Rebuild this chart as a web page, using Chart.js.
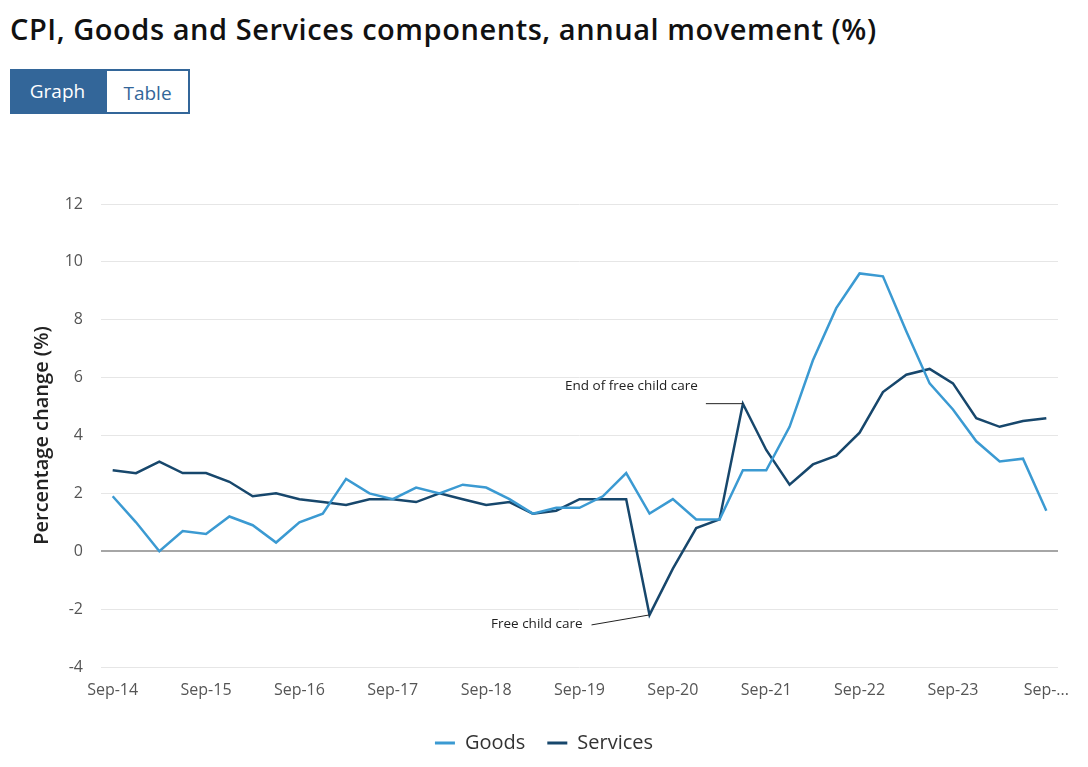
<!DOCTYPE html>
<html>
<head>
<meta charset="utf-8">
<script src="https://cdn.jsdelivr.net/npm/chart.js@4"></script>
<style>
  body { margin: 0; background: #fff; font-family: "Open Sans", sans-serif; width: 1088px; height: 767px; overflow: hidden; position: relative; }
  h1 { position: absolute; left: 10px; top: 9px; margin: 0; font-size: 29px; letter-spacing: 0.55px; font-weight: 600; color: #111; }
  .tabs { position: absolute; left: 10px; top: 69px; display: flex; }
  .tabs div { height: 45px; line-height: 45px; font-size: 19px; text-align: center; box-sizing: border-box; }
  .tab-on { width: 95px; background: #336699; color: #fff; }
  .tab-off { width: 85px; border: 2px solid #336699; color: #336699; background: #fff; line-height: 43px; }
  #wrap { position: absolute; left: 0; top: 150px; width: 1088px; height: 617px; }
</style>
</head>
<body>
<h1>CPI, Goods and Services components, annual movement (%)</h1>
<div class="tabs"><div class="tab-on">Graph</div><div class="tab-off">Table</div></div>
<div id="wrap"><canvas id="cpiChart"></canvas></div>
<script>
// Quarters Sep-14 .. Sep-24
const quarters = [];
const years = ['14','15','16','17','18','19','20','21','22','23','24'];
const months = ['Sep','Dec','Mar','Jun'];
years.forEach((y, i) => {
    months.forEach((m, j) => {
        const yr = j < 2 ? y : years[i + 1];
        if (yr) quarters.push(m + '-' + yr);
    });
});
const categories = quarters.slice(0, 41);

const goods = [1.9, 1.0, 0.0, 0.7, 0.6, 1.2, 0.9, 0.3, 1.0, 1.3, 2.5, 2.0, 1.8,
    2.2, 2.0, 2.3, 2.2, 1.8, 1.3, 1.5, 1.5, 1.9, 2.7, 1.3, 1.8, 1.1, 1.1,
    2.8, 2.8, 4.3, 6.6, 8.4, 9.6, 9.5, 7.6, 5.8, 4.9, 3.8, 3.1, 3.2, 1.4];
const services = [2.8, 2.7, 3.1, 2.7, 2.7, 2.4, 1.9, 2.0, 1.8, 1.7, 1.6, 1.8, 1.8,
    1.7, 2.0, 1.8, 1.6, 1.7, 1.3, 1.4, 1.8, 1.8, 1.8, -2.2, -0.6, 0.8, 1.1,
    5.1, 3.5, 2.3, 3.0, 3.3, 4.1, 5.5, 6.1, 6.3, 5.8, 4.6, 4.3, 4.5, 4.6];

const yTicks = [-4, -2, 0, 2, 4, 6, 8, 10, 12];

const notes = [
    { text: 'End of free child care', index: 27, series: services, dx: -37, dy: 0, tx: -45, ty: -18 },
    { text: 'Free child care', index: 23, series: services, dx: -58, dy: 10, tx: -67, ty: 9 }
];

const goodsColor = '#3b9ad2';
const servicesColor = '#17476c';

// Anotaciones con línea guía
const notePlugin = {
    id: 'notes',
    afterDatasetsDraw(chart) {
        const { ctx, scales } = chart;
        ctx.save();
        ctx.font = '13.5px "Open Sans"';
        ctx.fillStyle = '#222';
        ctx.strokeStyle = '#222';
        ctx.lineWidth = 1;
        notes.forEach(n => {
            const px = scales.x.getPixelForValue(n.index);
            const py = scales.y.getPixelForValue(n.series[n.index]);
            ctx.beginPath();
            ctx.moveTo(px, py);
            ctx.lineTo(px + n.dx, py + n.dy);
            ctx.stroke();
            ctx.textAlign = 'right';
            ctx.textBaseline = 'middle';
            ctx.fillText(n.text, px + n.tx, py + n.ty);
        });
        ctx.restore();
    }
};

new Chart(document.getElementById('cpiChart'), {
    type: 'line',
    data: {
        labels: categories,
        datasets: [
            { label: 'Goods', data: goods, borderColor: goodsColor, backgroundColor: goodsColor, borderWidth: 2.5, pointRadius: 0, tension: 0 },
            { label: 'Services', data: services, borderColor: servicesColor, backgroundColor: servicesColor, borderWidth: 2.5, pointRadius: 0, tension: 0 }
        ]
    },
    options: {
        responsive: true,
        maintainAspectRatio: false,
        animation: false,
        layout: { padding: { top: 54, right: 30, left: 30, bottom: 4 } },
        plugins: {
            legend: {
                position: 'bottom',
                labels: {
                    boxWidth: 20,
                    boxHeight: 3,
                    padding: 22,
                    color: '#333',
                    font: { family: 'Open Sans', size: 20 },
                    generateLabels: chart => Chart.defaults.plugins.legend.labels.generateLabels(chart)
                        .map(l => Object.assign(l, { lineWidth: 0 }))
                }
            },
            tooltip: { enabled: false }
        },
        scales: {
            x: {
                offset: true,
                grid: { display: false },
                border: { display: false },
                afterFit: s => { s.height = 44; },
                ticks: {
                    autoSkip: false,
                    maxRotation: 0,
                    padding: 6,
                    color: '#555',
                    font: { family: 'Open Sans', size: 16 },
                    callback: function (v, i) {
                        if (i % 4 !== 0) return null;
                        const lab = categories[i];
                        return i === categories.length - 1 ? lab.slice(0, 4) + '...' : lab;
                    }
                }
            },
            y: {
                min: -4,
                max: 12,
                afterBuildTicks: s => { s.ticks = yTicks.map(v => ({ value: v })); },
                afterFit: s => { s.width = 71; },
                border: { display: false },
                grid: {
                    color: c => c.tick.value === 0 ? '#a6a6a6' : '#e6e6e6',
                    lineWidth: c => c.tick.value === 0 ? 2 : 1,
                    drawTicks: false
                },
                ticks: {
                    padding: 18,
                    color: '#555',
                    font: { family: 'Open Sans', size: 16 }
                },
                title: {
                    display: true,
                    text: 'Percentage change (%)',
                    color: '#222',
                    padding: { top: 0, bottom: 0 },
                    font: { family: 'Open Sans', size: 20, weight: '600' }
                }
            }
        }
    },
    plugins: [notePlugin]
});
</script>
</body>
</html>
